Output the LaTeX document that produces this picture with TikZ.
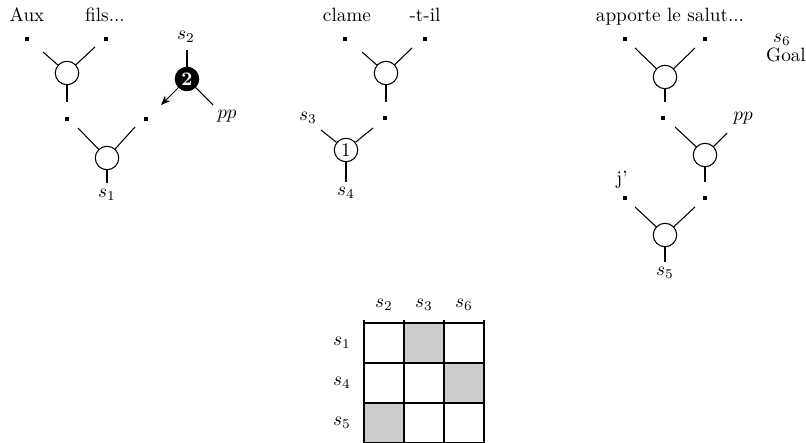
\documentclass[tikz,border=0pt]{standalone}
\usetikzlibrary{arrows.meta}
\begin{document}
\begin{tikzpicture}[x=0.52pt,y=-0.52pt,
  op/.style={circle,draw,line width=0.55pt,minimum size=12.2pt,inner sep=0pt},
  blackop/.style={circle,draw,fill=black,text=white,line width=0.55pt,minimum size=12.2pt,inner sep=0pt,font=\bfseries},
  dotmark/.style={rectangle,fill=black,minimum size=1.7pt,inner sep=0pt},
  stub/.style={line width=0.55pt},
  lbl/.style={inner sep=0pt},
  word/.style={inner sep=0pt,anchor=base},
  cellline/.style={line width=0.55pt},
  graycell/.style={fill=black!20}]
\useasboundingbox (0,0) rectangle (806,443);

% ---------- Tree 1 ----------
\node[word] (aux) at (27,22) {Aux};
\node[word] (fils) at (105,22) {fils...};
\node[dotmark] (d11) at (27,39) {};
\node[dotmark] (d12) at (106,39) {};
\node[op] (c11) at (67,73) {};
\coordinate (c11l) at (43,52);
\coordinate (c11r) at (95,47);
\coordinate (c11v) at (67,102);
\draw[stub] (c11) -- (c11l);
\draw[stub] (c11) -- (c11r);
\draw[stub] (c11) -- (c11v);
\node[dotmark] (d13) at (67,119) {};
\node[dotmark] (d14) at (146,119) {};
\node[op] (c12) at (107,158) {};
\coordinate (c12l) at (78,128);
\coordinate (c12r) at (135,127);
\coordinate (c12v) at (107,183);
\draw[stub] (c12) -- (c12l);
\draw[stub] (c12) -- (c12r);
\draw[stub] (c12) -- (c12v);
\node[lbl] (s1) at (107,195) {$s_1$};
% black operator 2
\node[lbl] (s2) at (186,37) {$s_2$};
\node[blackop] (b2) at (187,79) {2};
\coordinate (b2u) at (187,50);
\coordinate (b2r) at (213,105);
\coordinate (b2a) at (161,105);
\draw[stub] (b2) -- (b2u);
\draw[stub] (b2) -- (b2r);
\draw[stub,-{Stealth[length=5pt,width=4pt]}] (b2) -- (b2a);
\node[lbl] (pp1) at (227,116) {$pp$};

% ---------- Tree 2 ----------
\node[word] (clame) at (347,22) {clame};
\node[word] (til) at (425,22) {-t-il};
\node[dotmark] (d21) at (345,39) {};
\node[dotmark] (d22) at (425,39) {};
\node[op] (c21) at (386,73) {};
\coordinate (c21l) at (362,52);
\coordinate (c21r) at (412,48);
\coordinate (c21v) at (386,102);
\draw[stub] (c21) -- (c21l);
\draw[stub] (c21) -- (c21r);
\draw[stub] (c21) -- (c21v);
\node[dotmark] (d23) at (385,118) {};
\node[op] (c22) at (346,150) {1};
\coordinate (c22l) at (321,130);
\coordinate (c22r) at (373,128);
\coordinate (c22v) at (346,182);
\draw[stub] (c22) -- (c22l);
\draw[stub] (c22) -- (c22r);
\draw[stub] (c22) -- (c22v);
\node[lbl] (s3) at (308,118) {$s_3$};
\node[lbl] (s4) at (346,193) {$s_4$};

% ---------- Tree 3 ----------
\node[word] (salut) at (670,22) {apporte le salut...};
\node[lbl] (s6) at (782,40) {$s_6$};
\node[word] (goal) at (786,62) {Goal};
\node[dotmark] (d31) at (625,39) {};
\node[dotmark] (d32) at (705,39) {};
\node[op] (c31) at (665,77) {};
\coordinate (c31l) at (635,48);
\coordinate (c31r) at (695,48);
\coordinate (c31v) at (665,102);
\draw[stub] (c31) -- (c31l);
\draw[stub] (c31) -- (c31r);
\draw[stub] (c31) -- (c31v);
\node[dotmark] (d33) at (663,118) {};
\node[lbl] (pp3) at (743,118) {$pp$};
\node[op] (c32) at (705,155) {};
\coordinate (c32l) at (675,127);
\coordinate (c32r) at (727,133);
\coordinate (c32v) at (705,182);
\draw[stub] (c32) -- (c32l);
\draw[stub] (c32) -- (c32r);
\draw[stub] (c32) -- (c32v);
\node[word] (jp) at (622,184) {j'};
\node[dotmark] (d34) at (625,198) {};
\node[dotmark] (d35) at (705,198) {};
\node[op] (c33) at (665,235) {};
\coordinate (c33l) at (635,207);
\coordinate (c33r) at (695,207);
\coordinate (c33v) at (665,262);
\draw[stub] (c33) -- (c33l);
\draw[stub] (c33) -- (c33r);
\draw[stub] (c33) -- (c33v);
\node[lbl] (s5) at (665,273) {$s_5$};

% ---------- Table ----------
\fill[graycell] (404,323) rectangle (444,363);
\fill[graycell] (444,363) rectangle (484,403);
\fill[graycell] (364,403) rectangle (404,443);
\foreach \yy in {323,363,403,443} \draw[cellline] (364,\yy) -- (484,\yy);
\foreach \xx in {364,404,444,484} \draw[cellline] (\xx,320) -- (\xx,443);
\node[lbl] (h2) at (384,305) {$s_2$};
\node[lbl] (h3) at (424,305) {$s_3$};
\node[lbl] (h6) at (464,305) {$s_6$};
\node[lbl] (r1) at (342,343) {$s_1$};
\node[lbl] (r4) at (342,383) {$s_4$};
\node[lbl] (r5) at (342,423) {$s_5$};
\end{tikzpicture}
\end{document}
